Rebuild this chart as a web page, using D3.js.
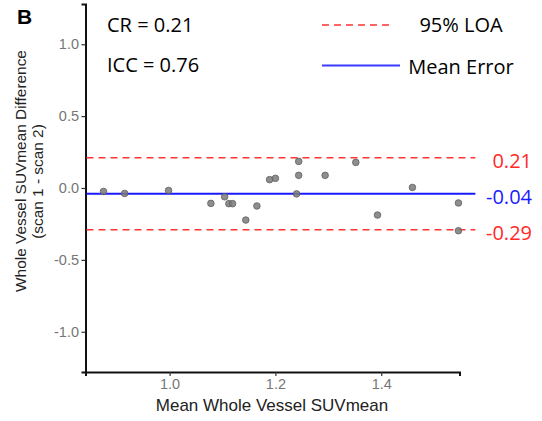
<!DOCTYPE html>
<html>
<head>
<meta charset="utf-8">
<script src="https://cdn.jsdelivr.net/npm/d3@7"></script>
<style>
  body { margin: 0; background: #fff; }
  svg { display: block; }
</style>
</head>
<body>
<div id="chart"></div>
<script>
// mean of the two scans (x) and scan1 - scan2 difference (y)
const meanSuv = [0.875, 0.915, 0.998, 1.078, 1.104, 1.112, 1.119, 1.144, 1.165, 1.189,
                 1.200, 1.244, 1.244, 1.240, 1.294, 1.352, 1.393, 1.459, 1.546, 1.546];
const diffSuv = [-0.024, -0.038, -0.017, -0.107, -0.061, -0.109, -0.109, -0.223, -0.125, 0.058,
                 0.067, 0.185, 0.088, -0.041, 0.088, 0.178, -0.188, 0.004, -0.104, -0.297];

const meanError = -0.04;
const loaUpper = 0.21;
const loaLower = -0.29;

const xTicks = [1.0, 1.2, 1.4];
const yTicks = [1.0, 0.5, 0.0, -0.5, -1.0];
const statsText = ['CR = 0.21', 'ICC = 0.76'];

const width = 542, height = 421;

const x = d3.scaleLinear().domain([0.841, 1.548]).range([85.5, 459.5]);
const y = d3.scaleLinear().domain([-1.28, 1.28]).range([372, 4]);
const lineEnd = 1.578; // reference lines run a bit past the axis

const svg = d3.select('#chart').append('svg')
  .attr('width', width).attr('height', height);

// plain hyphen for negatives, like the original
const locale = d3.formatLocale({decimal: '.', thousands: ',', grouping: [3], currency: ['', ''], minus: '-'});
const fmt = locale.format('.1f');
const fmt2 = locale.format('.2f');

// axes
const xAxis = svg.append('g')
  .attr('transform', `translate(0,${y.range()[0]})`)
  .call(d3.axisBottom(x).tickValues(xTicks).tickFormat(fmt).tickSizeOuter(0).tickSize(4).tickPadding(3));
const yAxis = svg.append('g')
  .attr('transform', `translate(${x.range()[0]},0)`)
  .call(d3.axisLeft(y).tickValues(yTicks).tickFormat(fmt).tickSizeOuter(0).tickSize(4).tickPadding(2.5));

[xAxis, yAxis].forEach(a => {
  a.select('.domain').attr('stroke', '#111').attr('stroke-width', 2);
  a.selectAll('.tick line').attr('stroke', '#333').attr('stroke-width', 1.2);
  a.selectAll('.tick text')
    .attr('fill', '#767676')
    .style('font-family', '"Liberation Sans", Arial, sans-serif')
    .style('font-size', '14.5px');
});

// reference lines
const hline = (v, color, dash, w) => svg.append('line')
  .attr('x1', x.range()[0] + 1).attr('x2', x(lineEnd))
  .attr('y1', y(v)).attr('y2', y(v))
  .attr('stroke', color).attr('stroke-width', w)
  .attr('stroke-dasharray', dash);

hline(loaUpper, '#ff3333', '7,5', 1.5);
hline(loaLower, '#ff3333', '7,5', 1.5);
hline(meanError, '#1a1aff', null, 2.2);

// points
svg.append('g').selectAll('circle')
  .data(meanSuv.map((m, i) => [m, diffSuv[i]]))
  .join('circle')
    .attr('cx', d => x(d[0]))
    .attr('cy', d => y(d[1]))
    .attr('r', 3.3)
    .attr('fill', '#7a7a7a')
    .attr('fill-opacity', 0.85)
    .attr('stroke', '#5e5e5e')
    .attr('stroke-width', 0.8);

// line value labels
const calibri = '"Open Sans", "Noto Sans", sans-serif';
[[loaUpper, '#ff2a2a'], [meanError, '#1a1aff'], [loaLower, '#ff2a2a']].forEach(([v, c]) => {
  svg.append('text')
    .attr('x', 532).attr('y', y(v) + 10.5)
    .attr('text-anchor', 'end')
    .attr('fill', c)
    .style('font-family', calibri)
    .style('font-size', '20px')
    .text(fmt2(v));
});

// stats
statsText.forEach((t, i) => {
  svg.append('text')
    .attr('x', 107).attr('y', 32 + i * 40)
    .style('font-family', calibri)
    .style('font-size', '20px')
    .attr('fill', '#000')
    .text(t);
});

// legend
const legend = svg.append('g');
legend.append('line')
  .attr('x1', 322).attr('x2', 394).attr('y1', 25).attr('y2', 25)
  .attr('stroke', '#ff3333').attr('stroke-width', 1.5).attr('stroke-dasharray', '7,5');
legend.append('line')
  .attr('x1', 322).attr('x2', 400).attr('y1', 65.5).attr('y2', 65.5)
  .attr('stroke', '#3b3bff').attr('stroke-width', 2);
[['95% LOA', 32], ['Mean Error', 73.5]].forEach(([t, yy]) => {
  legend.append('text')
    .attr('x', 461).attr('y', yy)
    .attr('text-anchor', 'middle')
    .style('font-family', calibri)
    .style('font-size', '20px')
    .attr('fill', '#000')
    .text(t);
});

// axis titles
svg.append('text')
  .attr('x', 272).attr('y', 411)
  .attr('text-anchor', 'middle')
  .style('font-family', '"Liberation Sans", Arial, sans-serif')
  .style('font-size', '17px')
  .attr('fill', '#222')
  .text('Mean Whole Vessel SUVmean');

svg.append('text')
  .attr('transform', 'translate(25.5,171) rotate(-90)')
  .attr('text-anchor', 'middle')
  .style('font-family', '"Liberation Sans", Arial, sans-serif')
  .style('font-size', '15.4px')
  .attr('fill', '#222')
  .text('Whole Vessel SUVmean Difference');
svg.append('text')
  .attr('transform', 'translate(42.5,181.5) rotate(-90)')
  .attr('text-anchor', 'middle')
  .style('font-family', '"Liberation Sans", Arial, sans-serif')
  .style('font-size', '15.4px')
  .attr('fill', '#222')
  .text('(scan 1 - scan 2)');

// panel letter
svg.append('text')
  .attr('x', 17).attr('y', 23.5)
  .style('font-family', '"Liberation Sans", Arial, sans-serif')
  .style('font-size', '21px')
  .style('font-weight', 'bold')
  .attr('fill', '#000')
  .text('B');
</script>
</body>
</html>
